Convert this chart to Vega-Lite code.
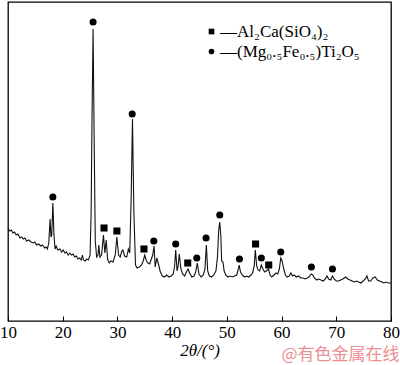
{
  "$schema": "https://vega.github.io/schema/vega-lite/v6.json",
  "autosize": "none",
  "width": 383,
  "height": 319,
  "padding": {"left": 8, "top": 2, "right": 9, "bottom": 44},
  "background": "white",
  "config": {
    "view": {"stroke": "black", "strokeWidth": 1.3},
    "font": "Liberation Serif"
  },
  "title": {
    "text": "@有色金属在线",
    "orient": "bottom",
    "anchor": "end",
    "color": "#ec8f92",
    "font": "Noto Sans CJK SC",
    "fontSize": 17,
    "fontWeight": "normal",
    "offset": -12,
    "dy": 1
  },
  "datasets": {
    "xrd": [
      {"t":10.0,"i":93},{"t":10.3,"i":90},{"t":10.6,"i":91},{"t":10.9,"i":88},{"t":11.2,"i":89},{"t":11.5,"i":86},{"t":11.8,"i":87},{"t":12.2,"i":83},{"t":12.5,"i":84},{"t":12.8,"i":82},{"t":13.1,"i":83},{"t":13.4,"i":80},{"t":13.8,"i":81},{"t":14.2,"i":79},{"t":14.6,"i":78},{"t":14.9,"i":79},{"t":15.2,"i":76},{"t":15.6,"i":77},{"t":16.0,"i":75},{"t":16.3,"i":76},{"t":16.7,"i":73},{"t":17.0,"i":74},{"t":17.2,"i":72},{"t":17.45,"i":78},{"t":17.7,"i":102},{"t":17.85,"i":84},{"t":18.0,"i":86},{"t":18.2,"i":118},{"t":18.4,"i":86},{"t":18.6,"i":72},{"t":18.8,"i":75},{"t":19.1,"i":71},{"t":19.5,"i":72},{"t":19.8,"i":69},{"t":20.1,"i":71},{"t":20.4,"i":68},{"t":20.7,"i":69},{"t":21.0,"i":66},{"t":21.3,"i":68},{"t":21.6,"i":66},{"t":21.9,"i":67},{"t":22.2,"i":64},{"t":22.5,"i":65},{"t":22.8,"i":62},{"t":23.1,"i":63},{"t":23.4,"i":61},{"t":23.6,"i":66},{"t":23.8,"i":61},{"t":24.1,"i":60},{"t":24.4,"i":62},{"t":24.7,"i":61},{"t":25.0,"i":66},{"t":25.2,"i":110},{"t":25.35,"i":200},{"t":25.55,"i":292},{"t":25.75,"i":180},{"t":25.95,"i":80},{"t":26.2,"i":64},{"t":26.45,"i":66},{"t":26.6,"i":76},{"t":26.8,"i":64},{"t":27.1,"i":66},{"t":27.45,"i":86},{"t":27.7,"i":68},{"t":27.95,"i":81},{"t":28.2,"i":62},{"t":28.5,"i":58},{"t":28.8,"i":60},{"t":29.2,"i":59},{"t":29.6,"i":66},{"t":29.9,"i":84},{"t":30.2,"i":66},{"t":30.5,"i":64},{"t":30.8,"i":70},{"t":31.0,"i":71},{"t":31.3,"i":65},{"t":31.7,"i":64},{"t":32.0,"i":72},{"t":32.25,"i":68},{"t":32.5,"i":120},{"t":32.75,"i":202},{"t":33.0,"i":110},{"t":33.3,"i":56},{"t":33.6,"i":53},{"t":34.0,"i":54},{"t":34.4,"i":56},{"t":34.7,"i":60},{"t":35.0,"i":66},{"t":35.3,"i":60},{"t":35.6,"i":58},{"t":35.9,"i":57},{"t":36.2,"i":62},{"t":36.45,"i":66},{"t":36.7,"i":75},{"t":36.9,"i":54},{"t":37.2,"i":63},{"t":37.5,"i":57},{"t":37.8,"i":50},{"t":38.2,"i":45},{"t":38.6,"i":44},{"t":39.0,"i":46},{"t":39.4,"i":44},{"t":39.8,"i":45},{"t":40.2,"i":47},{"t":40.45,"i":55},{"t":40.65,"i":71},{"t":40.9,"i":50},{"t":41.1,"i":55},{"t":41.3,"i":67},{"t":41.6,"i":52},{"t":41.9,"i":47},{"t":42.3,"i":45},{"t":42.6,"i":49},{"t":42.9,"i":52},{"t":43.2,"i":48},{"t":43.6,"i":44},{"t":44.0,"i":45},{"t":44.3,"i":49},{"t":44.6,"i":58},{"t":44.9,"i":47},{"t":45.3,"i":44},{"t":45.7,"i":46},{"t":46.0,"i":52},{"t":46.25,"i":76},{"t":46.5,"i":50},{"t":46.8,"i":45},{"t":47.2,"i":44},{"t":47.6,"i":46},{"t":48.0,"i":50},{"t":48.3,"i":65},{"t":48.5,"i":90},{"t":48.7,"i":99},{"t":48.9,"i":85},{"t":49.05,"i":60},{"t":49.3,"i":59},{"t":49.5,"i":50},{"t":49.8,"i":46},{"t":50.2,"i":44},{"t":50.6,"i":45},{"t":51.0,"i":44},{"t":51.4,"i":45},{"t":51.8,"i":46},{"t":52.0,"i":50},{"t":52.25,"i":56},{"t":52.5,"i":49},{"t":52.8,"i":46},{"t":53.2,"i":44},{"t":53.6,"i":45},{"t":54.0,"i":44},{"t":54.4,"i":46},{"t":54.7,"i":48},{"t":55.0,"i":55},{"t":55.2,"i":71},{"t":55.45,"i":55},{"t":55.7,"i":51},{"t":56.0,"i":50},{"t":56.3,"i":56},{"t":56.6,"i":52},{"t":56.9,"i":49},{"t":57.2,"i":50},{"t":57.6,"i":52},{"t":57.9,"i":46},{"t":58.2,"i":44},{"t":58.6,"i":46},{"t":59.0,"i":48},{"t":59.3,"i":47},{"t":59.6,"i":52},{"t":59.85,"i":63},{"t":60.1,"i":60},{"t":60.4,"i":52},{"t":60.7,"i":46},{"t":61.0,"i":44},{"t":61.4,"i":45},{"t":61.7,"i":48},{"t":62.0,"i":45},{"t":62.3,"i":46},{"t":62.7,"i":44},{"t":63.1,"i":45},{"t":63.5,"i":43},{"t":63.9,"i":43},{"t":64.3,"i":42},{"t":64.7,"i":43},{"t":65.0,"i":44},{"t":65.4,"i":47},{"t":65.7,"i":46},{"t":66.0,"i":43},{"t":66.4,"i":41},{"t":66.8,"i":42},{"t":67.2,"i":41},{"t":67.6,"i":40},{"t":68.0,"i":42},{"t":68.3,"i":45},{"t":68.6,"i":42},{"t":69.0,"i":41},{"t":69.3,"i":45},{"t":69.6,"i":42},{"t":70.0,"i":40},{"t":70.4,"i":40},{"t":70.8,"i":41},{"t":71.2,"i":42},{"t":71.7,"i":44},{"t":72.1,"i":42},{"t":72.5,"i":41},{"t":72.9,"i":40},{"t":73.3,"i":39},{"t":73.7,"i":40},{"t":74.1,"i":39},{"t":74.5,"i":38},{"t":74.9,"i":40},{"t":75.3,"i":42},{"t":75.6,"i":45},{"t":75.9,"i":40},{"t":76.3,"i":40},{"t":76.7,"i":43},{"t":77.1,"i":44},{"t":77.5,"i":41},{"t":77.9,"i":40},{"t":78.3,"i":39},{"t":78.7,"i":38},{"t":79.1,"i":39},{"t":79.5,"i":38},{"t":80.0,"i":38}
    ],
    "marks": [
      {"t":27.55,"i":93,"phase":"Al₂Ca(SiO₄)₂"},
      {"t":29.9,"i":90,"phase":"Al₂Ca(SiO₄)₂"},
      {"t":34.85,"i":72,"phase":"Al₂Ca(SiO₄)₂"},
      {"t":42.85,"i":58,"phase":"Al₂Ca(SiO₄)₂"},
      {"t":55.25,"i":77,"phase":"Al₂Ca(SiO₄)₂"},
      {"t":57.65,"i":56,"phase":"Al₂Ca(SiO₄)₂"},
      {"t":18.2,"i":124,"phase":"(Mg₀.₅Fe₀.₅)Ti₂O₅"},
      {"t":25.55,"i":299,"phase":"(Mg₀.₅Fe₀.₅)Ti₂O₅"},
      {"t":32.7,"i":207,"phase":"(Mg₀.₅Fe₀.₅)Ti₂O₅"},
      {"t":36.65,"i":80,"phase":"(Mg₀.₅Fe₀.₅)Ti₂O₅"},
      {"t":40.65,"i":77,"phase":"(Mg₀.₅Fe₀.₅)Ti₂O₅"},
      {"t":44.5,"i":63,"phase":"(Mg₀.₅Fe₀.₅)Ti₂O₅"},
      {"t":46.2,"i":83,"phase":"(Mg₀.₅Fe₀.₅)Ti₂O₅"},
      {"t":48.7,"i":106,"phase":"(Mg₀.₅Fe₀.₅)Ti₂O₅"},
      {"t":52.3,"i":62,"phase":"(Mg₀.₅Fe₀.₅)Ti₂O₅"},
      {"t":56.3,"i":63,"phase":"(Mg₀.₅Fe₀.₅)Ti₂O₅"},
      {"t":59.85,"i":69,"phase":"(Mg₀.₅Fe₀.₅)Ti₂O₅"},
      {"t":65.45,"i":54,"phase":"(Mg₀.₅Fe₀.₅)Ti₂O₅"},
      {"t":69.3,"i":52,"phase":"(Mg₀.₅Fe₀.₅)Ti₂O₅"}
    ]
  },
  "layer": [
    {
      "data": {"name": "xrd"},
      "mark": {"type": "line", "color": "#111111", "strokeWidth": 1.1, "interpolate": "linear"},
      "encoding": {
        "x": {
          "field": "t", "type": "quantitative",
          "scale": {"domain": [10, 80], "nice": false, "zero": false},
          "axis": {
            "title": "2θ/(°)",
            "titleFont": "Liberation Serif", "titleFontSize": 17, "titleFontStyle": "italic", "titleFontWeight": "normal", "titleColor": "black",
            "titlePadding": 2,
            "values": [10, 20, 30, 40, 50, 60, 70, 80],
            "labelFont": "Liberation Serif", "labelFontSize": 17, "labelColor": "black", "labelFlush": false,
            "labelPadding": 8,
            "tickSize": -5, "tickColor": "black", "tickWidth": 1,
            "domain": false, "grid": false
          }
        },
        "y": {
          "field": "i", "type": "quantitative",
          "scale": {"domain": [0, 319], "nice": false, "zero": false},
          "axis": null
        }
      }
    },
    {
      "data": {"name": "marks"},
      "mark": {"type": "point", "filled": true, "color": "black", "size": 50, "opacity": 1},
      "encoding": {
        "x": {"field": "t", "type": "quantitative"},
        "y": {"field": "i", "type": "quantitative"},
        "shape": {
          "field": "phase", "type": "nominal",
          "scale": {"domain": ["Al₂Ca(SiO₄)₂", "(Mg₀.₅Fe₀.₅)Ti₂O₅"], "range": ["square", "circle"]},
          "legend": {
            "title": null,
            "orient": "none",
            "legendX": 195,
            "legendY": 21,
            "labelExpr": "'—' + datum.label",
            "labelFont": "Liberation Serif",
            "labelFontSize": 17,
            "labelColor": "black",
            "labelOffset": 0,
            "labelLimit": 300,
            "symbolSize": 32,
            "symbolFillColor": "black",
            "symbolStrokeColor": "black",
            "rowPadding": 2
          }
        }
      }
    }
  ]
}
